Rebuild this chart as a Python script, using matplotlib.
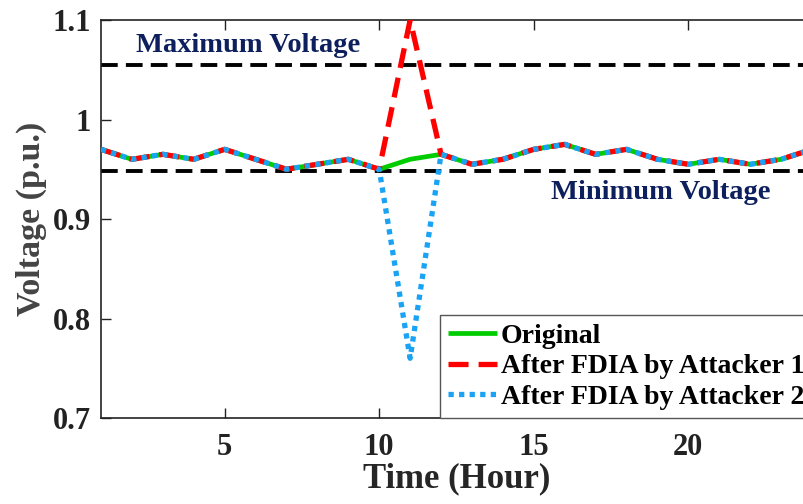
import matplotlib
matplotlib.use("Agg")
import matplotlib.pyplot as plt
import numpy as np

hours = list(range(1, 25))
original = [0.970, 0.960, 0.965, 0.960, 0.970, 0.960, 0.950, 0.955, 0.960, 0.950,
            0.960, 0.965, 0.955, 0.960, 0.970, 0.975, 0.965, 0.970, 0.960, 0.955,
            0.960, 0.955, 0.960, 0.970]
attacker1 = original.copy()
attacker1[10] = 1.100
attacker2 = original.copy()
attacker2[10] = 0.760
v_max = 1.055
v_min = 0.948
xticks = [5, 10, 15, 20]
yticks = [0.7, 0.8, 0.9, 1.0, 1.1]
ytick_labels = ["0.7", "0.8", "0.9", "1", "1.1"]

plt.rcParams['font.family'] = ['Liberation Serif', 'DejaVu Serif']
plt.rcParams['font.weight'] = 'bold'

fig = plt.figure(figsize=(8.04, 5.04), dpi=100)
W, H = 804, 504
left, right, top, bottom = 101, 812, 20, 418
ax = fig.add_axes([left / W, 1 - bottom / H, (right - left) / W, (bottom - top) / H])

ax.plot(hours, original, color='#00cc00', lw=3.4, solid_capstyle='butt', label='Original', zorder=3)
ax.plot(hours, attacker1, color='#ff0000', lw=3.8, ls=(0, (3.8, 1.9)), label='After FDIA by Attacker 1', zorder=4)
ax.plot(hours, attacker2, color='#1aa3f5', lw=3.8, ls=(0, (1.0, 1.0)), label='After FDIA by Attacker 2', zorder=5)

ax.axhline(v_max, color='black', lw=2.8, ls=(0, (4.3, 2.1)), zorder=2)
ax.axhline(v_min, color='black', lw=2.8, ls=(0, (4.3, 2.1)), zorder=2)

ax.text(5.75, 1.0745, 'Maximum Voltage', color='#0d1f5c', fontsize=20.5, fontweight='bold',
        ha='center', va='center', zorder=6)
ax.text(19.12, 0.9265, 'Minimum Voltage', color='#0d1f5c', fontsize=20.5, fontweight='bold',
        ha='center', va='center', zorder=6)

ax.set_xlim(1, 24)
ax.set_ylim(0.7, 1.1)
ax.set_xticks(xticks)
ax.set_xticklabels([str(t) for t in xticks])
ax.set_yticks(yticks)
ax.set_yticklabels(ytick_labels)
ax.tick_params(axis='both', direction='in', length=7, width=1.0, labelsize=22,
               colors='#222222', top=True, right=False)
ax.tick_params(axis='x', pad=11)
ax.tick_params(axis='y', pad=7)
for lab in ax.get_xticklabels() + ax.get_yticklabels():
    lab.set_fontweight('bold')
for s in ax.spines.values():
    s.set_linewidth(1.2)
    s.set_color('#222222')

ax.set_xlabel('Time (Hour)', fontsize=25, fontweight='bold', color='#262626', labelpad=0)
ax.set_ylabel('Voltage (p.u.)', fontsize=24.5, fontweight='bold', color='#444444', labelpad=4)

leg = ax.legend(loc='lower left', bbox_to_anchor=((440 - left) / (right - left), 0.0),
                prop={'weight': 'bold', 'size': 20}, frameon=True, fancybox=False,
                edgecolor='#555555', framealpha=1.0, handlelength=1.75, handletextpad=0.15,
                borderpad=0.3, labelspacing=0.18, borderaxespad=0.0)
leg.get_frame().set_linewidth(1.0)
leg.set_zorder(10)

fig.savefig('out.png', dpi=100)
